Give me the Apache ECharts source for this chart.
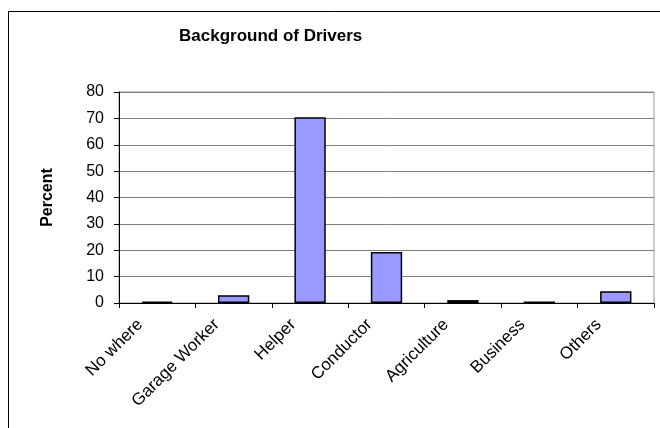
<!DOCTYPE html>
<html lang="en">
<head>
    <meta charset="UTF-8">
    <title>Background of Drivers</title>
    <script src="https://cdn.jsdelivr.net/npm/echarts@6/dist/echarts.min.js"></script>
    <style>
        html, body { margin: 0; padding: 0; background: #fff; }
    </style>
</head>
<body>
<div style="width: 660px; height: 428px" id="main"></div>

<script type="text/javascript">
    var categories = ['No where', 'Garage Worker', 'Helper', 'Conductor', 'Agriculture', 'Business', 'Others'];
    var percents = [0.5, 2.9, 70.4, 19.3, 1.1, 0.6, 4.5];
    var yTicks = [0, 10, 20, 30, 40, 50, 60, 70, 80];

    var myChart = echarts.init(document.getElementById('main'));
    var font = 'Liberation Sans, Arial, sans-serif';

    var option = {
        animation: false,
        backgroundColor: '#fff',
        title: {
            text: 'Background of Drivers',
            left: 174,
            top: 23,
            textStyle: {
                fontFamily: font,
                fontSize: 17,
                fontWeight: 'bold',
                color: '#000'
            }
        },
        // outer chart frame, runs off the right and bottom of the picture
        graphic: [{
            type: 'rect',
            z: -1,
            shape: { x: 8.5, y: 11.5, width: 700, height: 500 },
            style: { fill: 'none', stroke: '#000', lineWidth: 1 }
        }],
        grid: {
            left: 119,
            right: 6,
            top: 92,
            bottom: 125,
            show: true,
            borderColor: '#999',
            borderWidth: 1
        },
        xAxis: {
            type: 'category',
            data: categories,
            axisLine: { lineStyle: { color: '#000', width: 1 } },
            axisTick: { show: true, length: 5, lineStyle: { color: '#000' } },
            axisLabel: {
                rotate: 45,
                interval: 0,
                margin: 2,
                padding: [0, 24, 0, 0],
                fontFamily: font,
                fontSize: 17,
                color: '#000'
            }
        },
        yAxis: {
            type: 'value',
            min: yTicks[0],
            max: yTicks[yTicks.length - 1],
            interval: 10,
            name: 'Percent',
            nameLocation: 'middle',
            nameRotate: 90,
            nameGap: 63,
            nameTextStyle: {
                fontFamily: font,
                fontSize: 16,
                fontWeight: 'bold',
                color: '#000'
            },
            axisLine: { show: true, lineStyle: { color: '#000', width: 1 } },
            axisTick: { show: true, length: 5, lineStyle: { color: '#000' } },
            axisLabel: {
                margin: 15,
                fontFamily: font,
                fontSize: 16,
                color: '#000'
            },
            splitLine: { lineStyle: { color: '#808080', width: 1 } }
        },
        series: [{
            type: 'bar',
            data: percents,
            barWidth: '41%',
            itemStyle: {
                color: '#9999ff',
                borderColor: '#000',
                borderWidth: 1.5
            }
        }]
    };

    myChart.setOption(option);
</script>
</body>
</html>
